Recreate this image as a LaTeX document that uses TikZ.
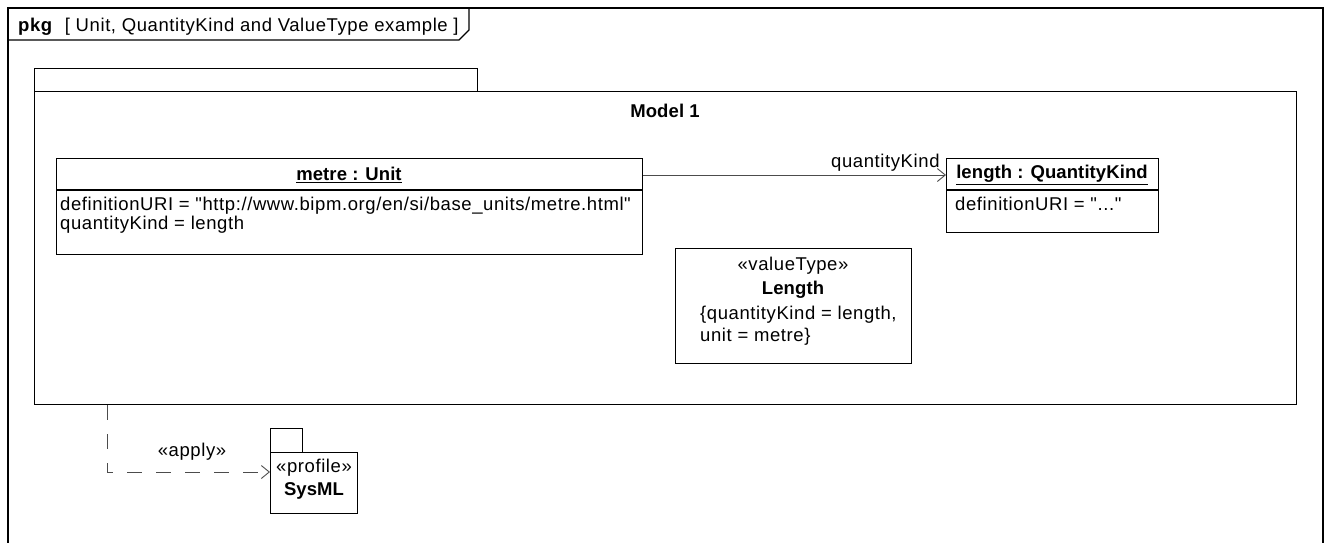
\documentclass[tikz,border=0pt]{standalone}
\usepackage{fontspec}
\setmainfont{Liberation Sans}[Ligatures=TeXOff, LetterSpace=3.2]
\usetikzlibrary{arrows.meta}

\begin{document}
\begin{tikzpicture}
    [x=1pt, y=-1pt,
     box/.style={draw, line width=1.2pt, anchor=north west, inner sep=0pt},
     txt/.style={inner sep=0pt, font=\fontsize{18.5}{20}\selectfont},
     slot/.style={txt, anchor=base west},
     bold/.style={inner sep=0pt, font=\fontsize{18.5}{20}\selectfont\bfseries\addfontfeature{LetterSpace=0.5}},
     link/.style={draw=black!70, line width=0.9pt, -{Straight Barb[length=8pt, width=13pt]}}]
    \useasboundingbox (0,0) rectangle (1333,542);

    % diagram frame
    \draw[line width=1.2pt] (8,545) -- (8,8) -- (1323,8) -- (1323,545);
    \draw[line width=1.2pt] (8,40) -- (459,40) -- (469,30) -- (469,8);
    \node (title) at (18,31) [slot] {\textbf{pkg}\hspace{12pt}[ Unit, QuantityKind and ValueType example ]};

    % package Model 1
    \node (modeltab) at (34,68) [box, minimum width=443, minimum height=23] {};
    \node (model) at (34,91) [box, minimum width=1262, minimum height=313] {};
    \node (modelname) at (665,111) [bold] {Model 1};

    % instance specifications
    \node (metre) at (56,158) [box, minimum width=586, minimum height=96] {};
    \draw[line width=1.2pt] ([yshift=-32]metre.north west) -- ([yshift=-32]metre.north east);
    \node (metrehead) at (349,175) [bold] {\underline{metre : Unit}};
    \node (metreuri) at (60,210) [slot] {definitionURI = "http://www.bipm.org/en/si/base\_units/metre.html"};
    \node (metrekind) at (60,229) [slot] {quantityKind = length};

    \node (length) at (946,158) [box, minimum width=212, minimum height=74] {};
    \draw[line width=1.2pt] ([yshift=-32]length.north west) -- ([yshift=-32]length.north east);
    \node (lengthhead) at (1052,175) [bold] {\underline{length : QuantityKind}};
    \node (lengthuri) at (955,210) [slot] {definitionURI = "..."};

    \draw[link] ([yshift=-17]metre.north east) -- ([yshift=-17]length.north west)
        node [txt, pos=1, anchor=south east, xshift=-6pt, yshift=3pt] {quantityKind};

    % value type
    \node (lengthtype) at (675,248) [box, minimum width=236, minimum height=115] {};
    \node (vtstereo) at (793,266) [txt] {«valueType»};
    \node (vtname) at (793,290) [bold] {Length};
    \node (vtkind) at (700,319) [slot] {\{quantityKind = length,};
    \node (vtunit) at (700,341) [slot] {unit = metre\}};

    % profile SysML
    \node (sysmltab) at (270,428) [box, minimum width=32, minimum height=24] {};
    \node (sysml) at (270,452) [box, minimum width=87, minimum height=61] {};
    \node (profstereo) at (314,468) [txt] {«profile»};
    \node (profname) at (314,491) [bold] {SysML};

    \draw[link, dash pattern=on 15pt off 14pt] ([xshift=73]model.south west) |- ([yshift=-20]sysml.north west);
    \node (applylabel) at (192,452) [txt] {«apply»};
\end{tikzpicture}
\end{document}
